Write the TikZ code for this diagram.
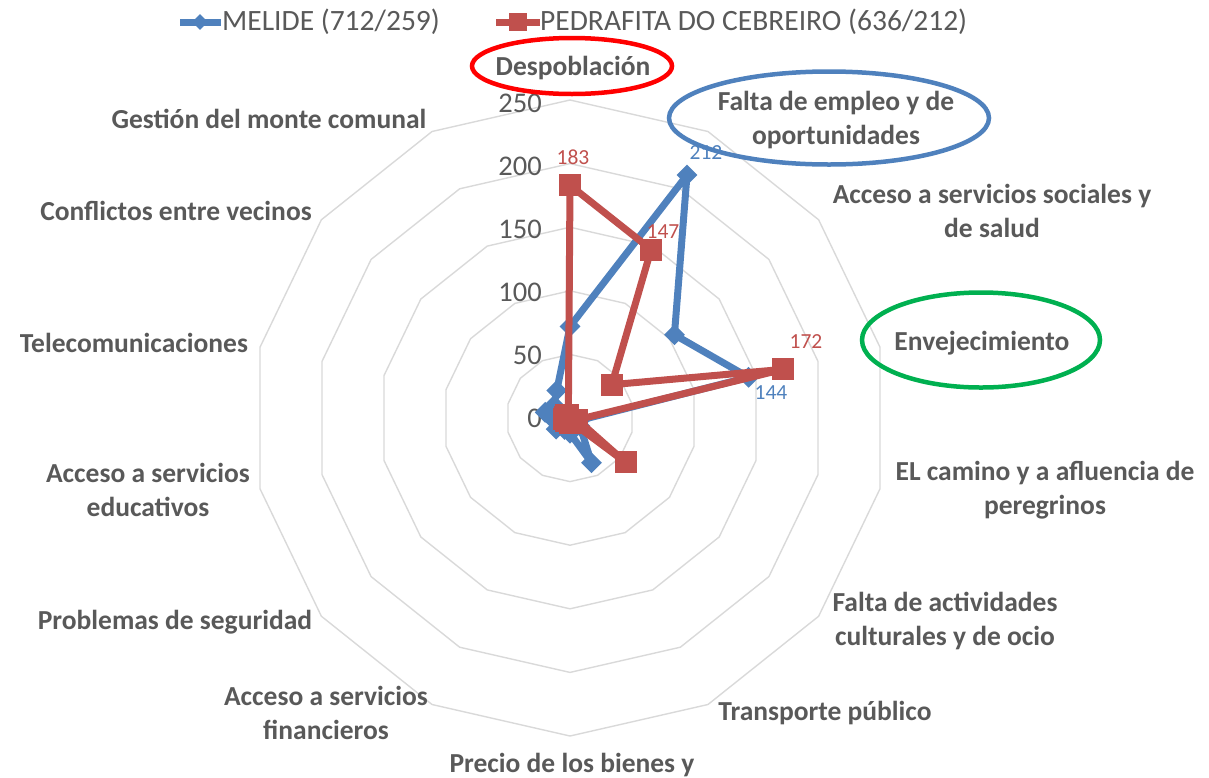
\documentclass[tikz,border=0pt]{standalone}
\usepackage{fontspec}
\setmainfont{Carlito}
\usetikzlibrary{shapes.geometric}
\definecolor{serA}{HTML}{4F81BD}
\definecolor{serB}{HTML}{C0504D}
\definecolor{txt}{HTML}{595959}
\definecolor{gridc}{HTML}{D9D9D9}
\definecolor{ringgreen}{HTML}{00B050}
\definecolor{ringred}{HTML}{FF0000}
\tikzset{
  cat/.style={text=txt, font=\bfseries\fontsize{27.5}{34}\selectfont, align=center, inner sep=0pt},
  val/.style={text=txt, font=\fontsize{28.5}{34}\selectfont, anchor=east, inner sep=0pt},
  gridline/.style={draw=gridc, line width=1.4pt},
  lineA/.style={draw=serA, line width=7pt, line join=round},
  lineB/.style={draw=serB, line width=7pt, line join=round},
  mkA/.style={diamond, fill=serA, inner sep=0pt, minimum size=21pt},
  mkB/.style={rectangle, fill=serB, inner sep=0pt, minimum size=22pt},
  dlab/.style={font=\fontsize{21.5}{24}\selectfont, inner sep=0pt},
  legtext/.style={anchor=west, text=txt, font=\fontsize{29.5}{34}\selectfont, inner sep=0pt},
  ring/.style={ellipse, draw, line width=4.5pt, inner sep=0pt},
}
\begin{document}
\begin{tikzpicture}[x=1pt,y=-1pt]
\useasboundingbox (0,0) rectangle (1209,777);
% grid polygons
\foreach \k in {1,...,5}
  \draw[gridline] plot[samples at={0,...,13}] ({570+63.6*\k*sin(\x*360/14)}, {418-63.6*\k*cos(\x*360/14)}) -- cycle;
% value axis labels
\node[val] (v250) at (542,103) {250};
\node[val] (v200) at (542,166) {200};
\node[val] (v150) at (542,229) {150};
\node[val] (v100) at (542,292) {100};
\node[val] (v50) at (542,355) {50};
\node[val] (v0) at (542,418) {0};
% data coordinates
\foreach \v [count=\i from 0] in {72,212,105,144,8,10,39,12,10,14,12,20,16,24}
  \coordinate (m\i) at ({570+1.272*\v*sin(\i*360/14)}, {418-1.272*\v*cos(\i*360/14)});
\foreach \v [count=\i from 0] in {183,147,42,172,6,56,4,4,3,4,5,4,4,3}
  \coordinate (p\i) at ({570+1.272*\v*sin(\i*360/14)}, {418-1.272*\v*cos(\i*360/14)});
% MELIDE series
\draw[lineA] (m0) -- (m1) -- (m2) -- (m3) -- (m4) -- (m5) -- (m6) -- (m7) -- (m8) -- (m9) -- (m10) -- (m11) -- (m12) -- (m13) -- cycle;
\foreach \i in {0,...,13} \node[mkA] (mA\i) at (m\i) {};
% PEDRAFITA series
\draw[lineB] (p0) -- (p1) -- (p2) -- (p3) -- (p4) -- (p5) -- (p6) -- (p7) -- (p8) -- (p9) -- (p10) -- (p11) -- (p12) -- (p13) -- cycle;
\foreach \i in {0,...,13} \node[mkB] (mB\i) at (p\i) {};
% data labels
\node[dlab, text=serB] (l183) at (573,157) {183};
\node[dlab, text=serB] (l147) at (663,232) {147};
\node[dlab, text=serA] (l212) at (706,153) {212};
\node[dlab, text=serB] (l172) at (806,342) {172};
\node[dlab, text=serA] (l144) at (771,393) {144};
% category labels
\node[cat] (c0) at (573,68) {Despoblación};
\node[cat] (c1) at (836,120) {Falta de empleo y de\\oportunidades};
\node[cat] (c2) at (992,211) {Acceso a servicios sociales y\\de salud};
\node[cat] (c3) at (982,343) {Envejecimiento};
\node[cat] (c4) at (1045,490) {EL camino y a afluencia de\\peregrinos};
\node[cat] (c5) at (945,621) {Falta de actividades\\culturales y de ocio};
\node[cat] (c6) at (825,713) {Transporte público};
\node[cat] (c7) at (572,765) {Precio de los bienes y};
\node[cat] (c8) at (326,713) {Acceso a servicios\\financieros};
\node[cat] (c9) at (175,622) {Problemas de seguridad};
\node[cat] (c10) at (148,490) {Acceso a servicios\\educativos};
\node[cat] (c11) at (134,343) {Telecomunicaciones};
\node[cat] (c12) at (176,211) {Conflictos entre vecinos};
\node[cat] (c13) at (269,119) {Gestión del monte comunal};
% legend
\coordinate (la1) at (180,22); \coordinate (la2) at (221,22);
\draw[draw=serA, line width=7pt] (la1) -- (la2);
\node[mkA, minimum size=16pt] (lgmA) at (200,22) {};
\node[legtext] (lgA) at (222,22) {MELIDE (712/259)};
\coordinate (lb1) at (496,22); \coordinate (lb2) at (540,22);
\draw[draw=serB, line width=7pt] (lb1) -- (lb2);
\node[mkB, minimum size=18pt] (lgmB) at (518,22) {};
\node[legtext] (lgB) at (540,22) {PEDRAFITA DO CEBREIRO (636/212)};
% highlight ellipses
\node[ring, draw=ringred, minimum width=200pt, minimum height=56pt] (ringR) at (572,66) {};
\node[ring, draw=serA, minimum width=320pt, minimum height=93pt] (ringB) at (829,118) {};
\node[ring, draw=ringgreen, minimum width=238pt, minimum height=95pt] (ringG) at (981,340) {};
\end{tikzpicture}
\end{document}
